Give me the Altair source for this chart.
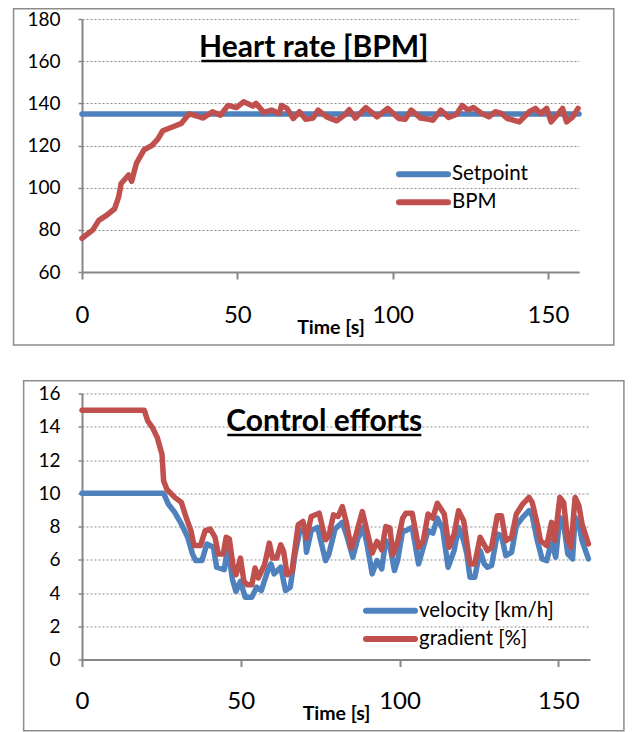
import altair as alt
import pandas as pd

# ---------------- data ----------------
X_TICKS = [0, 50, 100, 150]
HR_Y_TICKS = [60, 80, 100, 120, 140, 160, 180]
CE_Y_TICKS = [0, 2, 4, 6, 8, 10, 12, 14, 16]

setpoint_time = [0, 160]
setpoint_value = [135, 135]

hr_time = [0, 3.5, 5.4, 8, 10.5, 11.8, 12.6, 15, 16, 17.5, 20, 22.5, 24.4, 26, 29.5,
           32, 34.5, 37, 39, 42, 44.6, 47, 49.7, 52, 55, 56, 58.5, 61, 63.6, 64.2, 66,
           68, 70, 72, 74.4, 76, 78.8, 82, 84.5, 86, 88, 91.4, 95, 98.4, 102, 104, 106,
           109, 111.7, 113, 115.5, 118, 120.5, 122.4, 124.3, 126, 128.7, 131, 133, 135,
           137, 140.8, 144, 146, 147.7, 149.6, 151, 153.4, 154.7, 156, 158, 159.7]
hr_bpm = [76, 80, 84.5, 87, 90, 95.6, 102, 106, 103, 111.5, 118, 120, 123, 127, 129,
          130.5, 135, 134, 133, 136, 134.4, 139, 138, 140.7, 138.7, 140, 135.7, 136.8,
          135.2, 139, 137.6, 132.8, 136, 132.4, 133, 136.8, 133.6, 131.7, 134.4, 137,
          133, 138, 133.6, 137.6, 132.8, 132.4, 136.8, 133, 132.4, 132, 136.8, 133.3,
          134.7, 139, 136.8, 138, 135.2, 133.6, 136, 135.2, 132.8, 131.2, 136, 137.6,
          135.2, 137.6, 131.2, 135.2, 137.6, 131.2, 133.6, 137.6]

vel_time = [0, 25.7, 27.2, 29.2, 31.3, 33.3, 34.8, 35.8, 37.8, 39.3, 41.4, 42.4, 44.8,
            45.9, 47.4, 48.5, 49.9, 51.4, 53.5, 55.0, 56.5, 58.5, 59.5, 60.5, 62.6, 64.1,
            65.6, 67.1, 68.6, 70.1, 70.7, 72.2, 74.2, 76.7, 77.7, 79.7, 82.0, 83.3, 85.3,
            86.8, 88.6, 89.8, 91.4, 92.9, 94.4, 95.7, 97.0, 98.4, 99.4, 101.0, 102.0,
            104.0, 106.0, 107.5, 109.0, 110.5, 111.9, 113.6, 115.3, 117.2, 118.6, 120.2,
            121.2, 122.2, 123.7, 125.4, 126.7, 127.7, 129.0, 130.8, 132.1, 133.5, 135.3,
            136.8, 138.8, 140.8, 141.8, 143.4, 144.9, 146.4, 147.9, 149.2, 150.5, 151.7,
            153.0, 154.5, 155.3, 156.5, 157.5, 159.5]
vel_value = [10.0, 10.0, 9.35, 8.85, 8.15, 7.35, 6.35, 5.95, 5.95, 6.95, 6.75, 5.55, 5.4,
             6.75, 4.8, 4.1, 4.7, 3.75, 3.75, 4.35, 4.15, 5.35, 5.75, 5.15, 5.55, 4.15,
             4.35, 6.35, 7.75, 7.85, 6.45, 7.75, 7.95, 5.95, 6.3, 7.85, 8.25, 7.5, 6.15,
             7.25, 7.95, 6.9, 5.15, 5.95, 5.45, 7.15, 6.8, 5.35, 5.95, 7.75, 7.75, 7.95,
             5.75, 6.75, 7.75, 7.6, 8.5, 7.85, 5.55, 6.55, 7.95, 7.15, 6.35, 4.95, 4.95,
             6.55, 5.75, 5.55, 5.65, 7.55, 7.45, 6.25, 6.45, 8.05, 8.55, 8.95, 8.65, 7.15,
             6.05, 5.95, 7.15, 6.15, 8.55, 8.15, 6.35, 6.05, 8.55, 8.15, 7.15, 6.05]

grad_time = [0, 19.6, 20.7, 22.2, 23.7, 25.2, 25.7, 26.7, 29.2, 31.3, 32.8, 34.3, 35.3,
             37.3, 38.8, 40.4, 41.9, 42.9, 44.5, 45.4, 46.4, 47.6, 48.5, 49.9, 51.0, 52.0,
             53.5, 54.5, 55.5, 57.5, 59.0, 60.0, 61.3, 62.6, 63.5, 64.6, 66.1, 67.1, 68.1,
             69.6, 70.7, 72.2, 74.7, 76.7, 77.7, 79.2, 80.7, 82.0, 83.3, 84.8, 86.3, 88.3,
             89.8, 91.4, 92.9, 94.4, 95.7, 97.0, 97.9, 99.4, 101.0, 102.0, 104.0, 106.0,
             107.5, 109.0, 110.5, 111.9, 114.1, 115.6, 117.2, 118.6, 120.2, 122.2, 123.7,
             125.4, 127.7, 129.0, 130.8, 132.1, 133.5, 135.3, 136.8, 138.8, 140.8, 141.8,
             143.4, 144.4, 146.4, 147.9, 148.9, 150.5, 151.7, 153.0, 154.0, 155.3, 156.5,
             157.5, 159.5]
grad_value = [15.0, 15.0, 14.35, 13.95, 13.35, 12.35, 10.75, 10.25, 9.75, 9.45, 8.55, 7.75,
              6.85, 6.85, 7.75, 7.85, 7.35, 6.35, 6.35, 7.35, 7.25, 5.6, 5.1, 6.1, 4.7,
              4.5, 4.5, 5.5, 4.9, 5.7, 7.0, 6.1, 6.1, 6.9, 6.5, 5.1, 5.3, 6.7, 8.1, 8.3,
              7.3, 8.6, 8.8, 7.2, 7.4, 8.7, 8.6, 9.2, 8.2, 6.7, 7.5, 8.9, 7.7, 6.4, 7.1,
              6.6, 8.0, 7.9, 6.3, 7.1, 8.5, 8.8, 8.8, 6.75, 7.15, 8.75, 8.5, 9.4, 8.75,
              6.75, 7.55, 8.95, 8.35, 5.75, 5.75, 7.35, 6.55, 6.75, 8.65, 8.65, 7.15, 7.35,
              8.75, 9.35, 9.75, 9.45, 8.15, 7.15, 6.85, 8.25, 7.15, 9.75, 9.45, 7.15, 6.75,
              9.75, 9.25, 8.15, 6.95]

# ---------------- style ----------------
BLUE = "#4F81BD"
RED = "#C0504D"
GRAY = "#868686"
FONT = "Lato"
LW = 5.5


def x_axis(label_pad, title_y):
    return alt.Axis(values=X_TICKS, title="Time [s]", grid=False,
                    domainColor=GRAY, domainWidth=2, tickColor=GRAY, tickWidth=2,
                    tickSize=7, labelFont=FONT, labelFontSize=24, labelColor="black",
                    labelBaseline="alphabetic", labelPadding=label_pad, labelFlush=False,
                    labelOverlap=False, titleFont=FONT, titleFontSize=19.5,
                    titleFontWeight="bold", titleColor="black",
                    titleBaseline="alphabetic", titleY=title_y)


def y_axis(ticks):
    return alt.Axis(values=ticks, title=None, grid=True, gridColor="#8c8c8c",
                    gridDash=[2, 2], gridWidth=1.2, domainColor=GRAY, domainWidth=2,
                    tickColor=GRAY, tickWidth=1.5, tickSize=4, labelFont=FONT,
                    labelFontSize=19, labelColor="black", labelPadding=18,
                    labelOverlap=False)


def series_line(times, values, color, ydomain, yticks, label_pad, title_y):
    df = pd.DataFrame({"t": times, "v": values})
    return alt.Chart(df).mark_line(color=color, strokeWidth=LW, strokeJoin="round",
                                   strokeCap="round").encode(
        x=alt.X("t:Q", scale=alt.Scale(domain=[0, 160], nice=False),
                axis=x_axis(label_pad, title_y)),
        y=alt.Y("v:Q", scale=alt.Scale(domain=ydomain, nice=False), axis=y_axis(yticks)),
    )


def border(x1, x2, y1, y2):
    return alt.Chart().mark_rect(fill="white", fillOpacity=0, stroke="#8c8c8c",
                                 strokeWidth=1.5).encode(
        x=alt.value(x1), x2=alt.value(x2), y=alt.value(y1), y2=alt.value(y2))


def text(label, x, y, size, bold=False, align="left", baseline="middle"):
    return alt.Chart().mark_text(text=label, font=FONT, fontSize=size,
                                 fontWeight="bold" if bold else "normal",
                                 align=align, baseline=baseline, color="black").encode(
        x=alt.value(x), y=alt.value(y))


def hline(x1, x2, y, color, width, cap="butt"):
    return alt.Chart().mark_rule(color=color, strokeWidth=width, strokeCap=cap).encode(
        x=alt.value(x1), x2=alt.value(x2), y=alt.value(y))


top = alt.layer(
    border(-68.45, 531.8, -10.25, 326),
    series_line(setpoint_time, setpoint_value, BLUE, [60, 180], HR_Y_TICKS, 43, 61),
    series_line(hr_time, hr_bpm, RED, [60, 180], HR_Y_TICKS, 43, 61),
    text("Heart rate [BPM]", 231.8, 37.7, 30, bold=True, align="center", baseline="alphabetic"),
    hline(119.3, 344.3, 42, "black", 2.5),
    hline(317, 366, 155.3, BLUE, 6, "round"),
    hline(317, 366, 183.3, RED, 6, "round"),
    text("Setpoint", 370, 155.3, 20.5),
    text("BPM", 370, 183.3, 20.5),
).properties(width=497, height=253)

bottom = alt.layer(
    border(-58.35, 541.9, -12.7, 337.3),
    series_line(vel_time, vel_value, BLUE, [0, 16], CE_Y_TICKS, 42, 60),
    series_line(grad_time, grad_value, RED, [0, 16], CE_Y_TICKS, 42, 60),
    text("Control efforts", 242.3, 37.3, 30, bold=True, align="center", baseline="alphabetic"),
    hline(145.3, 339.3, 41.5, "black", 2.5),
    hline(284, 333, 217.3, BLUE, 6, "round"),
    hline(284, 333, 245.6, RED, 6, "round"),
    text("velocity [km/h]", 337, 217.3, 20.5),
    text("gradient [%]", 337, 245.6, 20.5),
).properties(width=508, height=266)

chart = alt.vconcat(top, bottom, spacing=33.5).properties(
    padding={"left": 4, "top": 0, "right": 0, "bottom": 0},
    background="white",
).configure_view(stroke=None)

chart.save("out.html", embed_options={"renderer": "svg", "actions": False})
